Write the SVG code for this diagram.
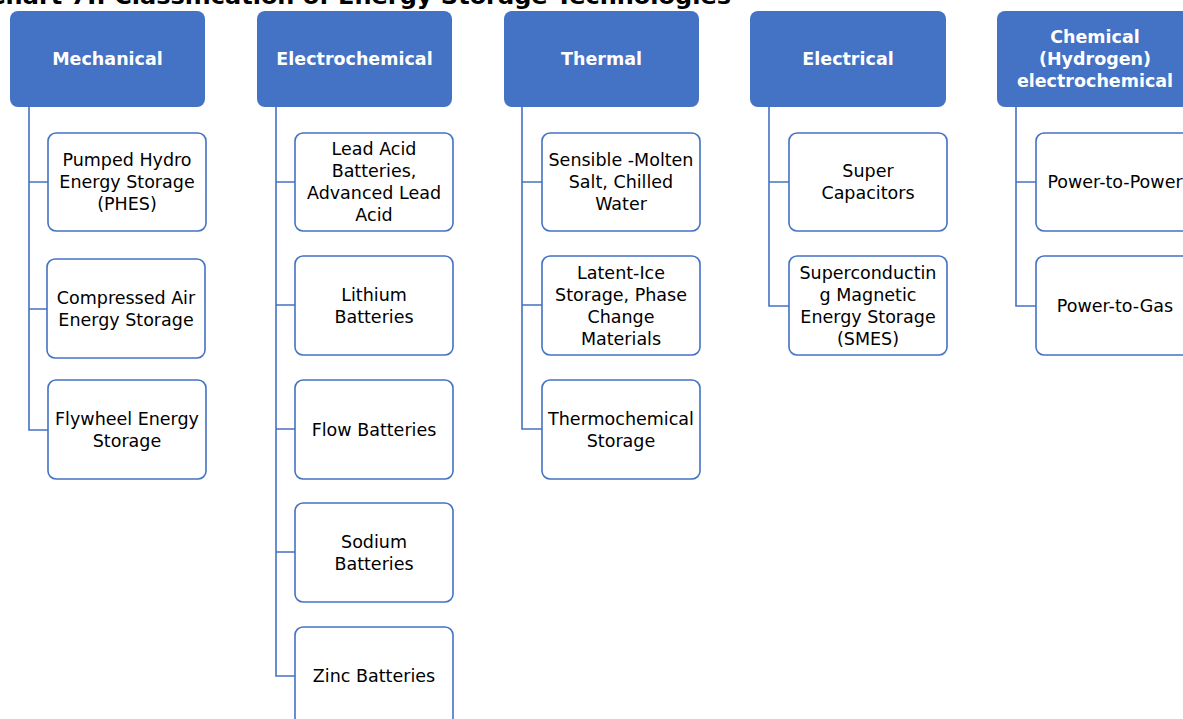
<svg xmlns="http://www.w3.org/2000/svg" width="1183" height="719" viewBox="0 0 1183 719">
<style>
.hdr{fill:#4472C4;}
.box{fill:#FFFFFF;stroke:#4472C4;stroke-width:1.6;}
.ht{font-family:"DejaVu Sans",Verdana,sans-serif;font-weight:bold;font-size:17.5px;fill:#FFFFFF;text-anchor:middle;dominant-baseline:central;}
.bt{font-family:"DejaVu Sans",Verdana,sans-serif;font-size:17.5px;fill:#000000;text-anchor:middle;dominant-baseline:central;}
.title{font-family:"DejaVu Sans",Verdana,sans-serif;font-weight:bold;font-size:23.5px;fill:#000000;}
.conn{fill:none;stroke:#4472C4;stroke-width:1.6;}
</style>
<rect width="1183" height="719" fill="#FFFFFF"/>
<text class="title" x="-12" y="4" textLength="743" lengthAdjust="spacingAndGlyphs">Chart 7I: Classification of Energy Storage Technologies</text>

<g id="connectors">
<path class="conn" d="M29,107 V430 H48 M29,182 H48 M29,309 H47"/>
<path class="conn" d="M276,107 V676 H295 M276,182 H295 M276,305 H295 M276,429 H295 M276,552 H295"/>
<path class="conn" d="M522,107 V429 H542 M522,182 H542 M522,305 H542"/>
<path class="conn" d="M769,107 V306 H789 M769,182 H789"/>
<path class="conn" d="M1016,107 V306 H1036 M1016,182 H1036"/>
</g>

<g id="mechanical">
<rect class="hdr" x="10" y="11" width="195" height="96" rx="8"/>
<text class="ht" x="107.5" y="59">Mechanical</text>
</g>
<g id="phes">
<rect class="box" x="48" y="133" width="158" height="98" rx="8"/>
<text class="bt" x="127" y="160">Pumped Hydro</text>
<text class="bt" x="127" y="182">Energy Storage</text>
<text class="bt" x="127" y="204">(PHES)</text>
</g>
<g id="caes">
<rect class="box" x="47" y="259" width="158" height="99" rx="8"/>
<text class="bt" x="126" y="297.5">Compressed Air</text>
<text class="bt" x="126" y="319.5">Energy Storage</text>
</g>
<g id="flywheel">
<rect class="box" x="48" y="380" width="158" height="99" rx="8"/>
<text class="bt" x="127" y="418.5">Flywheel Energy</text>
<text class="bt" x="127" y="440.5">Storage</text>
</g>

<g id="electrochemical">
<rect class="hdr" x="257" y="11" width="195" height="96" rx="8"/>
<text class="ht" x="354.5" y="59">Electrochemical</text>
</g>
<g id="leadacid">
<rect class="box" x="295" y="133" width="158" height="98" rx="8"/>
<text class="bt" x="374" y="149">Lead Acid</text>
<text class="bt" x="374" y="171">Batteries,</text>
<text class="bt" x="374" y="193">Advanced Lead</text>
<text class="bt" x="374" y="215">Acid</text>
</g>
<g id="lithium">
<rect class="box" x="295" y="256" width="158" height="99" rx="8"/>
<text class="bt" x="374" y="294.5">Lithium</text>
<text class="bt" x="374" y="316.5">Batteries</text>
</g>
<g id="flow">
<rect class="box" x="295" y="380" width="158" height="99" rx="8"/>
<text class="bt" x="374" y="429.5">Flow Batteries</text>
</g>
<g id="sodium">
<rect class="box" x="295" y="503" width="158" height="99" rx="8"/>
<text class="bt" x="374" y="541.5">Sodium</text>
<text class="bt" x="374" y="563.5">Batteries</text>
</g>
<g id="zinc">
<rect class="box" x="295" y="627" width="158" height="99" rx="8"/>
<text class="bt" x="374" y="676">Zinc Batteries</text>
</g>

<g id="thermal">
<rect class="hdr" x="504" y="11" width="195" height="96" rx="8"/>
<text class="ht" x="601.5" y="59">Thermal</text>
</g>
<g id="sensible">
<rect class="box" x="542" y="133" width="158" height="98" rx="8"/>
<text class="bt" x="621" y="160">Sensible -Molten</text>
<text class="bt" x="621" y="182">Salt, Chilled</text>
<text class="bt" x="621" y="204">Water</text>
</g>
<g id="latent">
<rect class="box" x="542" y="256" width="158" height="99" rx="8"/>
<text class="bt" x="621" y="272.5">Latent-Ice</text>
<text class="bt" x="621" y="294.5">Storage, Phase</text>
<text class="bt" x="621" y="316.5">Change</text>
<text class="bt" x="621" y="338.5">Materials</text>
</g>
<g id="thermochemical">
<rect class="box" x="542" y="380" width="158" height="99" rx="8"/>
<text class="bt" x="621" y="418.5">Thermochemical</text>
<text class="bt" x="621" y="440.5">Storage</text>
</g>

<g id="electrical">
<rect class="hdr" x="750" y="11" width="196" height="96" rx="8"/>
<text class="ht" x="848" y="59">Electrical</text>
</g>
<g id="supercap">
<rect class="box" x="789" y="133" width="158" height="98" rx="8"/>
<text class="bt" x="868" y="171">Super</text>
<text class="bt" x="868" y="193">Capacitors</text>
</g>
<g id="smes">
<rect class="box" x="789" y="256" width="158" height="99" rx="8"/>
<text class="bt" x="868" y="272.5">Superconductin</text>
<text class="bt" x="868" y="294.5">g Magnetic</text>
<text class="bt" x="868" y="316.5">Energy Storage</text>
<text class="bt" x="868" y="338.5">(SMES)</text>
</g>

<g id="chemical">
<rect class="hdr" x="997" y="11" width="196" height="96" rx="8"/>
<text class="ht" x="1095" y="37">Chemical</text>
<text class="ht" x="1095" y="59">(Hydrogen)</text>
<text class="ht" x="1095" y="81">electrochemical</text>
</g>
<g id="p2p">
<rect class="box" x="1036" y="133" width="158" height="98" rx="8"/>
<text class="bt" x="1115" y="182">Power-to-Power</text>
</g>
<g id="p2g">
<rect class="box" x="1036" y="256" width="158" height="99" rx="8"/>
<text class="bt" x="1115" y="305.5">Power-to-Gas</text>
</g>
</svg>
